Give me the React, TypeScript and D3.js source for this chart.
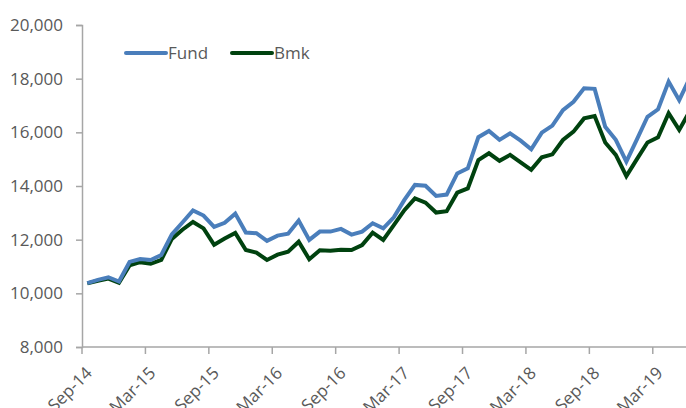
import React, { useEffect, useRef } from "react";
import * as d3 from "d3";

// monthly, Sep-14 .. Jun-19
const monthNames = ["Jan", "Feb", "Mar", "Apr", "May", "Jun", "Jul", "Aug", "Sep", "Oct", "Nov", "Dec"];
const months: string[] = [];
for (let i = 0; i < 58; i++) {
  const m = (8 + i) % 12;
  const y = 14 + Math.floor((8 + i) / 12);
  months.push(`${monthNames[m]}-${y}`);
}

const fund = [
  10380, 10500, 10600, 10440, 11170, 11280, 11240, 11430, 12200, 12640,
  13090, 12900, 12480, 12630, 12970, 12265, 12240, 11955, 12150, 12220,
  12710, 11990, 12300, 12300, 12400, 12190, 12300, 12610, 12420, 12830,
  13480, 14040, 14010, 13630, 13680, 14470, 14660, 15820, 16050, 15720,
  15960, 15690, 15370, 15990, 16250, 16830, 17140, 17640, 17620, 16210,
  15720, 14910, 15740, 16580, 16860, 17890, 17200, 18030,
];

const bmk = [
  10370, 10470, 10550, 10390, 11040, 11160, 11100, 11250, 12030, 12370,
  12660, 12420, 11810, 12040, 12250, 11615, 11520, 11242, 11440, 11550,
  11925, 11270, 11605, 11590, 11620, 11615, 11800, 12260, 11990, 12540,
  13100, 13540, 13380, 13010, 13060, 13750, 13910, 14970, 15220, 14940,
  15160, 14880, 14600, 15070, 15180, 15715, 16025, 16520, 16610, 15620,
  15160, 14370, 15000, 15620, 15815, 16710, 16090, 16790,
];

const yTicks = [8000, 10000, 12000, 14000, 16000, 18000, 20000];
const xTickLabels = ["Sep-14", "Mar-15", "Sep-15", "Mar-16", "Sep-16", "Mar-17", "Sep-17", "Mar-18", "Sep-18", "Mar-19"];

const series = [
  { name: "Fund", values: fund, color: "#4A7EBB" },
  { name: "Bmk", values: bmk, color: "#00420F" },
];

const App = () => {
  const ref = useRef<SVGSVGElement>(null);

  useEffect(() => {
    const width = 686;
    const height = 408;
    const margin = { top: 25, left: 82, bottom: 61 };
    const font = "'Open Sans', sans-serif";
    const axisColor = "#A6A6A6";
    const textColor = "#595959";

    const svg = d3.select(ref.current);
    svg.selectAll("*").remove();

    const x = d3
      .scaleBand()
      .domain(months)
      .range([margin.left, margin.left + months.length * 10.57])
      .padding(0);

    const y = d3
      .scaleLinear()
      .domain([8000, 20000])
      .range([height - margin.bottom, margin.top]);

    // y axis
    const yAxis = svg
      .append("g")
      .attr("transform", `translate(${margin.left},0)`)
      .call(d3.axisLeft(y).tickValues(yTicks).tickSize(6).tickFormat(d3.format(",")));
    yAxis.select(".domain").attr("stroke", axisColor).attr("stroke-width", 1.5);
    yAxis.selectAll(".tick line").attr("stroke", axisColor).attr("stroke-width", 1.5);
    yAxis
      .selectAll(".tick text")
      .attr("x", -19)
      .style("font-family", font)
      .style("font-size", "17px")
      .style("fill", textColor);

    // x axis
    const xAxis = svg
      .append("g")
      .attr("transform", `translate(0,${height - margin.bottom})`)
      .call(
        d3
          .axisBottom(x)
          .tickValues(xTickLabels)
          .tickSize(7)
          .tickSizeOuter(0)
      );
    xAxis.selectAll(".tick").attr("transform", (d: any) => `translate(${x(d)},0)`);
    xAxis
      .select(".domain")
      .attr("d", `M${margin.left},0H${width}`)
      .attr("stroke", axisColor)
      .attr("stroke-width", 1.5);
    xAxis.selectAll(".tick line").attr("stroke", axisColor).attr("stroke-width", 1.5);
    xAxis
      .selectAll(".tick text")
      .attr("transform", "translate(7,23) rotate(-45)")
      .attr("text-anchor", "end")
      .attr("dy", "0.35em")
      .attr("y", 0)
      .style("font-family", font)
      .style("font-size", "17px")
      .style("fill", textColor);

    // lines
    const line = d3
      .line<number>()
      .x((_, i) => (x(months[i]) as number) + x.bandwidth() / 2)
      .y((d) => y(d));

    svg
      .append("clipPath")
      .attr("id", "plot-clip")
      .append("rect")
      .attr("x", margin.left)
      .attr("y", 0)
      .attr("width", width - margin.left)
      .attr("height", height);

    const plot = svg.append("g").attr("clip-path", "url(#plot-clip)");
    [...series].reverse().forEach((s) => {
      plot
        .append("path")
        .datum(s.values)
        .attr("fill", "none")
        .attr("stroke", s.color)
        .attr("stroke-width", 4)
        .attr("stroke-linejoin", "miter")
        .attr("d", line);
    });

    // legend
    const legendX = [126, 232];
    series.forEach((s, i) => {
      const g = svg.append("g").attr("transform", `translate(${legendX[i]},53)`);
      g.append("line")
        .attr("x1", 0)
        .attr("x2", 40)
        .attr("stroke", s.color)
        .attr("stroke-width", 4)
        .attr("stroke-linecap", "round");
      g.append("text")
        .attr("x", 42)
        .attr("dy", "0.35em")
        .style("font-family", font)
        .style("font-size", "17px")
        .style("fill", textColor)
        .text(s.name);
    });
  }, []);

  return <svg ref={ref} width={686} height={408} style={{ position: "absolute", left: 0, top: 0 }} />;
};

export default App;
